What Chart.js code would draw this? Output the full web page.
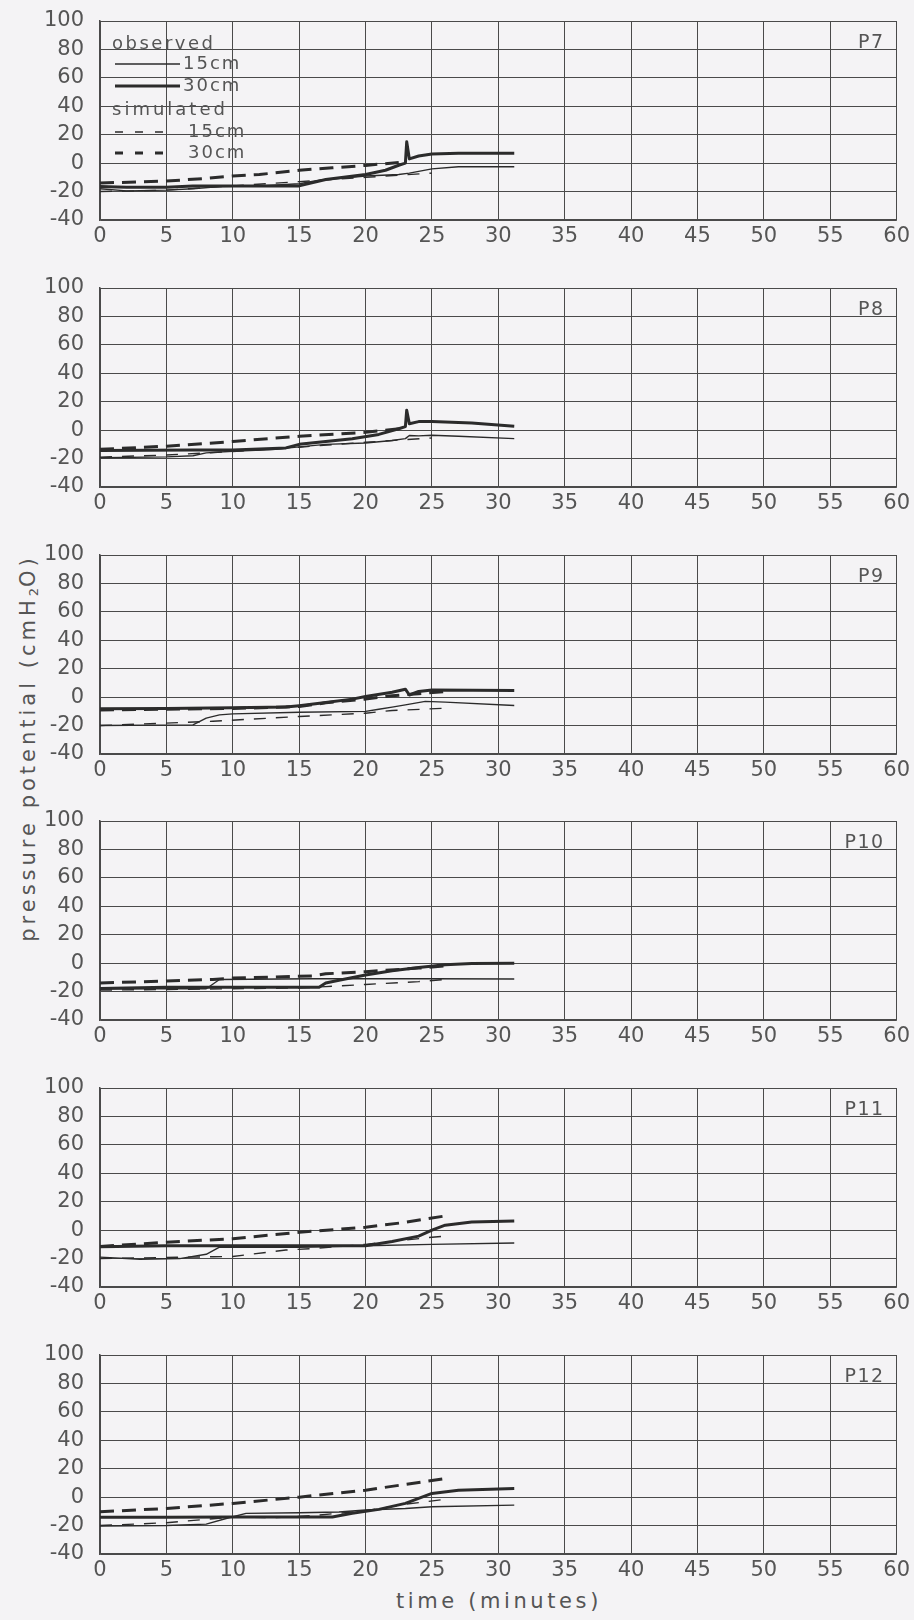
<!DOCTYPE html>
<html>
<head>
<meta charset="utf-8">
<script src="https://cdn.jsdelivr.net/npm/chart.js@4.4.1/dist/chart.umd.min.js"></script>
<style>
  html, body { margin: 0; padding: 0; background: #f4f3f5; }
  #wrap { position: relative; width: 914px; height: 1620px; overflow: hidden; background: #f4f3f5; }
  #wrap canvas { position: absolute; left: 0; }
  .title { position: absolute; white-space: nowrap; font-family: "DejaVu Sans", sans-serif; color: #555; font-size: 21px; }
  #ytitle { left: 28px; top: 748px; letter-spacing: 4px; transform: translate(-50%, -50%) rotate(-90deg); }
  #xtitle { left: 499px; top: 1601px; letter-spacing: 3.6px; transform: translate(-50%, -50%); }
  sub { font-size: 13px; vertical-align: -3px; letter-spacing: 1px; }
</style>
</head>
<body>
<div id="wrap">
  <div id="ytitle" class="title">pressure potential (cmH<sub>2</sub>O)</div>
  <div id="xtitle" class="title">time (minutes)</div>
</div>
<script>
// ---------------- data (time in minutes, pressure potential in cmH2O) ----------------
const PANEL_LABELS = ['P7', 'P8', 'P9', 'P10', 'P11', 'P12'];
const X_MIN = 0, X_MAX = 60, X_STEP = 5;
const Y_MIN = -40, Y_MAX = 100, Y_STEP = 20;
const LEGEND_GROUPS = ['observed', 'simulated'];
const LEGEND_DEPTHS = ['15cm', '30cm'];

// P7
const P7_obs15 = [[0,-18],[2,-19.5],[5,-19],[7,-18],[9,-16.5],[12,-16],[15,-14.5],[16.5,-12],[20,-9],[22.5,-8],[23.3,-7],[25,-4],[27,-2.5],[31.2,-2.5]];
const P7_obs30 = [[0,-16.5],[2,-17],[5,-17],[7,-16],[10,-16],[15,-16],[17,-11.5],[20,-8],[21.5,-5],[22.5,-1.5],[23,0],[23.1,15],[23.3,3],[24,5],[25,6.5],[27,7],[31.2,7]];
const P7_sim15 = [[0,-20],[5,-19],[10,-16],[15,-13],[20,-10],[25,-7]];
const P7_sim30 = [[0,-14],[5,-12.6],[8,-10.7],[10,-9],[12,-8],[15,-5],[17.5,-3.3],[20,-1.6],[22.5,0.5]];
// P8
const P8_obs15 = [[0,-19.4],[5,-18.8],[7,-18],[8,-16],[10,-14.8],[13,-13.6],[15,-11.8],[17,-10],[20,-9],[22,-7.3],[23,-6],[23.3,-3.8],[24,-4],[25,-3.6],[27,-4.3],[31.2,-6]];
const P8_obs30 = [[0,-14.3],[7,-14],[10,-14],[14,-12.5],[15,-10],[17,-8],[19,-6],[21,-3],[22.5,1],[23,2.5],[23.1,14],[23.3,4.5],[24,6],[25,6],[28,5],[31.2,2.7]];
const P8_sim15 = [[0,-19],[5,-17.5],[10,-15],[15,-12],[20,-8.5],[25,-5.5]];
const P8_sim30 = [[0,-13.5],[5,-11.3],[10,-8],[15,-4.3],[20,-1.5],[23,1.5]];
// P9
const P9_obs15 = [[0,-20],[7,-19.5],[8,-14.8],[9,-12.5],[10,-11.8],[15,-10.6],[20,-10],[21,-8.5],[22,-7],[23,-5.4],[24.5,-3],[26,-3.5],[31.2,-5.9]];
const P9_obs30 = [[0,-8.2],[5,-8],[10,-7.5],[14,-7],[15,-6],[17,-3.8],[19,-1.4],[20,0.5],[22,3.5],[23,5.6],[23.3,1.5],[24,4],[25,5],[31.2,4.7]];
const P9_sim15 = [[0,-20],[8.5,-17],[15,-13.6],[20,-11.3],[22,-9.4],[26,-7.8]];
const P9_sim30 = [[0,-9],[5,-8.5],[10,-8],[15,-6.6],[17,-4],[20,-1.4],[22,1],[24,2.4],[26,4]];
// P10
const P10_obs15 = [[0,-18],[8,-18],[9,-11.5],[16,-11],[20,-11],[25,-11],[31.2,-11.2]];
const P10_obs30 = [[0,-17.8],[5,-17],[10,-17],[16.5,-17],[17,-14],[18,-12],[20,-8.4],[22,-5.4],[24,-3],[26,-1.2],[28,-0.2],[31.2,0]];
const P10_sim15 = [[0,-19],[5,-18.5],[10,-18],[15,-17.5],[17,-16.5],[20,-15],[24,-13],[26,-11.5]];
const P10_sim30 = [[0,-14],[5,-12.5],[8.5,-11.5],[10,-10.5],[16,-9],[17,-7.5],[20,-6],[24,-3.5],[26,-2]];
// P11
const P11_obs15 = [[0,-19],[3,-20.5],[6,-20],[8,-17],[9,-12],[15,-12],[20,-11],[25,-10],[31.2,-9]];
const P11_obs30 = [[0,-11.7],[5,-11],[10,-11],[15,-11],[20,-11],[22,-8],[24,-4.2],[25,0],[26,3.5],[28,5.8],[31.2,6.5]];
const P11_sim15 = [[0,-20],[8.5,-18.7],[10,-18.5],[14,-14],[16,-13],[20,-10],[25,-5],[26,-4.2]];
const P11_sim30 = [[0,-11.5],[5,-8.5],[10,-6],[15,-1.5],[20,2],[23,5.5],[26,10]];
// P12
const P12_obs15 = [[0,-20.3],[5,-20],[8,-19],[9.5,-15],[11,-11.4],[15,-11],[18,-10.5],[20,-9],[23,-8],[25,-6.8],[31.2,-5.6]];
const P12_obs30 = [[0,-14.2],[5,-14.2],[10,-14],[15,-14],[17.5,-14],[19,-11.4],[21,-8.6],[23,-4.4],[25,2.6],[27,4.9],[31.2,6]];
const P12_sim15 = [[0,-20],[5,-18],[10,-14],[13,-14.5],[16,-13],[20,-9.6],[23,-5],[26,-1.5]];
const P12_sim30 = [[0,-10.3],[5,-8],[10,-4.4],[15,0],[20,4.9],[26,13]];

const PANEL_SERIES = [
  [P7_obs15, P7_obs30, P7_sim15, P7_sim30],
  [P8_obs15, P8_obs30, P8_sim15, P8_sim30],
  [P9_obs15, P9_obs30, P9_sim15, P9_sim30],
  [P10_obs15, P10_obs30, P10_sim15, P10_sim30],
  [P11_obs15, P11_obs30, P11_sim15, P11_sim30],
  [P12_obs15, P12_obs30, P12_sim15, P12_sim30]
];

// ---------------- styling / layout ----------------
const GRID = '#4a4a4a';
const TEXT = '#555555';
const INK = '#2b2b2b';
const FONT = '"DejaVu Sans", sans-serif';
const STYLES = [
  { borderWidth: 1.4, borderDash: [] },
  { borderWidth: 3, borderDash: [] },
  { borderWidth: 1.4, borderDash: [12, 10] },
  { borderWidth: 3, borderDash: [14, 8] }
];
const LEGEND_DASH = [8, 12];
const LEGEND_ROWS = [23, 43, 65, 89, 111, 132];
const CANVAS_W = 914, PAD_TOP = 40, PLOT_H = 199, XAXIS_H = 56;
const CANVAS_H = PAD_TOP + PLOT_H + XAXIS_H;
const PANEL_TOPS = [21, 288, 555, 821, 1088, 1355];

const panelLabelPlugin = {
  id: 'panelLabel',
  afterDraw(chart, args, opts) {
    const { ctx, chartArea } = chart;
    ctx.save();
    ctx.fillStyle = TEXT;
    ctx.font = '19px ' + FONT;
    if ('letterSpacing' in ctx) ctx.letterSpacing = '1.5px';
    ctx.textAlign = 'right';
    ctx.textBaseline = 'middle';
    ctx.fillText(opts.text, chartArea.right - 12, chartArea.top + 22);
    ctx.restore();
  }
};

const legendPlugin = {
  id: 'customLegend',
  afterDraw(chart, args, opts) {
    if (!opts.show) return;
    const { ctx, chartArea } = chart;
    const x0 = chartArea.left + 12;
    const rowY = k => chartArea.top + LEGEND_ROWS[k];
    ctx.save();
    ctx.font = '18px ' + FONT;
    ctx.textBaseline = 'middle';
    ctx.textAlign = 'left';
    let row = 0;
    LEGEND_GROUPS.forEach((g, gi) => {
      ctx.fillStyle = TEXT;
      if ('letterSpacing' in ctx) ctx.letterSpacing = gi === 0 ? '2.5px' : '3px';
      ctx.fillText(g, x0, rowY(row));
      row++;
      LEGEND_DEPTHS.forEach((d, di) => {
        const st = STYLES[gi * 2 + di];
        const y = rowY(row);
        ctx.strokeStyle = INK;
        ctx.lineWidth = st.borderWidth;
        ctx.setLineDash(gi === 0 ? [] : LEGEND_DASH);
        ctx.beginPath();
        ctx.moveTo(x0 + 3, y);
        ctx.lineTo(x0 + (gi === 0 ? 68 : 58), y);
        ctx.stroke();
        ctx.setLineDash([]);
        ctx.fillStyle = TEXT;
        if ('letterSpacing' in ctx) ctx.letterSpacing = '2px';
        ctx.fillText(d, x0 + (gi === 0 ? 71 : 76), y);
        row++;
      });
    });
    ctx.restore();
  }
};

const wrap = document.getElementById('wrap');
PANEL_LABELS.forEach((label, i) => {
  const cv = document.createElement('canvas');
  cv.width = CANVAS_W; cv.height = CANVAS_H;
  cv.style.width = CANVAS_W + 'px'; cv.style.height = CANVAS_H + 'px';
  cv.style.top = (PANEL_TOPS[i] - PAD_TOP) + 'px';
  wrap.appendChild(cv);
  const datasets = PANEL_SERIES[i].map((pts, s) => ({
    data: pts.map(p => ({ x: p[0], y: p[1] })),
    borderColor: INK,
    borderWidth: STYLES[s].borderWidth,
    borderDash: STYLES[s].borderDash,
    borderCapStyle: 'butt',
    borderJoinStyle: 'round',
    pointRadius: 0,
    tension: 0,
    fill: false
  }));
  new Chart(cv, {
    type: 'line',
    data: { datasets },
    options: {
      responsive: false,
      animation: false,
      devicePixelRatio: 1,
      layout: { padding: { left: 0, right: 17, top: PAD_TOP, bottom: 0 } },
      plugins: {
        legend: { display: false },
        tooltip: { enabled: false },
        panelLabel: { text: label },
        customLegend: { show: i === 0 }
      },
      scales: {
        x: {
          type: 'linear', min: X_MIN, max: X_MAX,
          ticks: { stepSize: X_STEP, color: TEXT, font: { family: FONT, size: 21 }, padding: 4, maxRotation: 0, autoSkip: false },
          grid: { color: GRID, lineWidth: 1, drawTicks: false },
          border: { color: GRID, width: 1.5 },
          afterFit: s => { s.height = XAXIS_H; }
        },
        y: {
          type: 'linear', min: Y_MIN, max: Y_MAX,
          ticks: { stepSize: Y_STEP, color: TEXT, font: { family: FONT, size: 21 }, padding: 16, autoSkip: false },
          grid: { color: GRID, lineWidth: 1, drawTicks: false },
          border: { color: GRID, width: 1.5 },
          afterFit: s => { s.width = 100; }
        }
      }
    },
    plugins: [panelLabelPlugin, legendPlugin]
  });
});
</script>
</body>
</html>
